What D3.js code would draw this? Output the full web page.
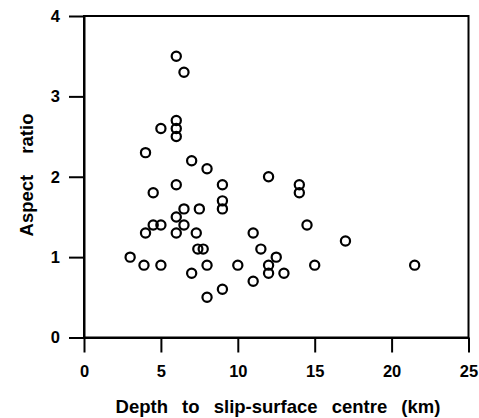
<!DOCTYPE html>
<html>
<head>
<meta charset="utf-8">
<script src="https://cdn.jsdelivr.net/npm/d3@7"></script>
<style>
  html, body { margin: 0; padding: 0; background: #fff; }
  svg { display: block; }
  text { font-family: "Liberation Sans", Arial, sans-serif; font-weight: bold; fill: #000; }
</style>
</head>
<body>
<svg id="chart" width="479" height="418"></svg>
<script>
// Data
const depth = [6, 6.5, 6, 6, 6, 5, 4, 7, 8, 12, 14, 14, 9, 9, 9, 6, 4.5, 6.5, 7.5, 6,
               4.5, 5, 6.5, 4, 6, 7.3, 14.5, 11, 17, 7.4, 7.75, 11.5, 12.5, 3, 3.9, 5, 8, 10, 12, 15,
               21.5, 7, 12, 13, 11, 9, 8];
const aspect = [3.5, 3.3, 2.7, 2.6, 2.5, 2.6, 2.3, 2.2, 2.1, 2.0, 1.9, 1.8, 1.9, 1.7, 1.6, 1.9, 1.8, 1.6, 1.6, 1.5,
                1.4, 1.4, 1.4, 1.3, 1.3, 1.3, 1.4, 1.3, 1.2, 1.1, 1.1, 1.1, 1.0, 1.0, 0.9, 0.9, 0.9, 0.9, 0.9, 0.9,
                0.9, 0.8, 0.8, 0.8, 0.7, 0.6, 0.5];
const xTicks = [0, 5, 10, 15, 20, 25];
const yTicks = [0, 1, 2, 3, 4];
const xTitle = "Depth to slip-surface centre (km)";
const yTitle = "Aspect ratio";

const svg = d3.select("#chart");
const mLeft = 84, mRight = 468.5, mTop = 16, mBottom = 337.5;
const x = d3.scaleLinear().domain([0, 25]).range([mLeft, mRight]);
const y = d3.scaleLinear().domain([0, 4]).range([mBottom, mTop]);

// frame
svg.append("rect")
  .attr("x", mLeft).attr("y", mTop)
  .attr("width", mRight - mLeft).attr("height", mBottom - mTop)
  .attr("fill", "none").attr("stroke", "#000").attr("stroke-width", 2);

const xAxis = svg.append("g")
  .attr("transform", `translate(0,${mBottom})`)
  .call(d3.axisBottom(x).tickValues(xTicks).tickSize(15).tickSizeOuter(0).tickPadding(13).tickFormat(d3.format("d")));
const yAxis = svg.append("g")
  .attr("transform", `translate(${mLeft},0)`)
  .call(d3.axisLeft(y).tickValues(yTicks).tickSize(15).tickSizeOuter(0).tickPadding(9).tickFormat(d3.format("d")));

[xAxis, yAxis].forEach(g => {
  g.select(".domain").attr("stroke", "#000").attr("stroke-width", 2);
  g.selectAll(".tick line").attr("stroke", "#000").attr("stroke-width", 2);
  g.selectAll(".tick text")
    .attr("font-family", "'Liberation Sans', Arial, sans-serif")
    .attr("font-weight", "bold")
    .attr("font-size", 16.5)
    .attr("fill", "#000");
});

// points
svg.append("g").selectAll("circle")
  .data(depth.map((d, i) => [d, aspect[i]]))
  .join("circle")
  .attr("cx", d => x(d[0]))
  .attr("cy", d => y(d[1]))
  .attr("r", 4.6)
  .attr("fill", "none")
  .attr("stroke", "#000")
  .attr("stroke-width", 2.2);

// titles
svg.append("text")
  .attr("x", 278)
  .attr("y", 413)
  .attr("text-anchor", "middle")
  .attr("font-size", 18.5)
  .attr("word-spacing", 9)
  .text(xTitle);

svg.append("text")
  .attr("transform", `translate(33,175) rotate(-90)`)
  .attr("text-anchor", "middle")
  .attr("font-size", 18.5)
  .attr("word-spacing", 16)
  .text(yTitle);
</script>
</body>
</html>
